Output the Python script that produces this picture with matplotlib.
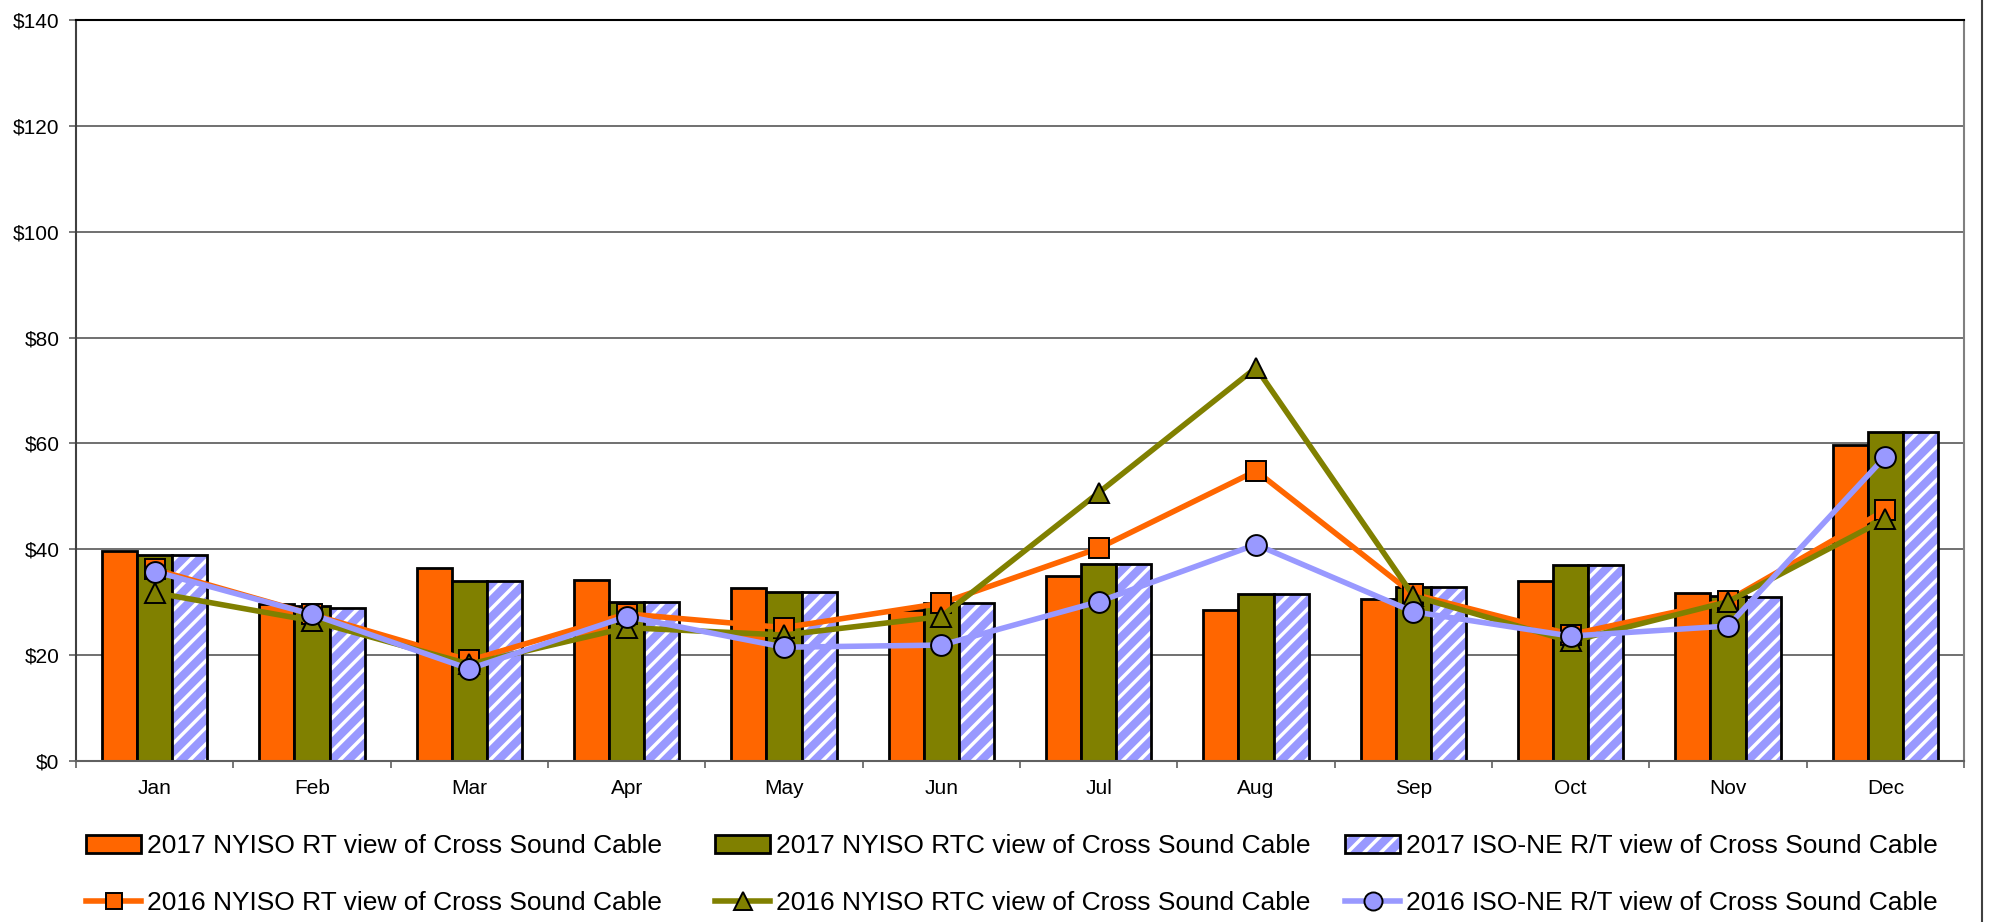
import matplotlib
matplotlib.use("Agg")
import matplotlib.pyplot as plt
import numpy as np
from matplotlib.patches import Patch
from matplotlib.lines import Line2D
from matplotlib.legend_handler import HandlerTuple

plt.rcParams["font.family"] = ["Liberation Sans", "DejaVu Sans"]
plt.rcParams["hatch.color"] = "white"
plt.rcParams["hatch.linewidth"] = 2.5

months = ["Jan", "Feb", "Mar", "Apr", "May", "Jun", "Jul", "Aug", "Sep", "Oct", "Nov", "Dec"]

# 2017 bars
rt_2017 = [39.7, 29.6, 36.4, 34.2, 32.6, 28.5, 35.0, 28.5, 30.6, 34.0, 31.7, 59.7]
rtc_2017 = [38.9, 29.2, 34.0, 30.1, 32.0, 29.9, 37.3, 31.6, 32.8, 37.0, 31.1, 62.1]
isone_2017 = [38.9, 29.0, 34.0, 30.1, 32.0, 29.8, 37.3, 31.6, 32.8, 37.0, 30.9, 62.1]

# 2016 lines
rt_2016 = [36.2, 27.7, 19.0, 27.8, 25.2, 29.8, 40.2, 54.8, 31.5, 23.9, 30.3, 47.4]
rtc_2016 = [31.8, 26.5, 18.3, 25.2, 23.8, 27.3, 50.7, 74.3, 31.2, 22.6, 30.1, 45.7]
isone_2016 = [35.8, 27.7, 17.4, 27.3, 21.5, 21.9, 30.1, 40.9, 28.2, 23.6, 25.5, 57.5]

labels = ["2017 NYISO RT view of Cross Sound Cable",
          "2017 NYISO RTC view of Cross Sound Cable",
          "2017 ISO-NE R/T view of Cross Sound Cable",
          "2016 NYISO RT view of Cross Sound Cable",
          "2016 NYISO RTC view of Cross Sound Cable",
          "2016 ISO-NE R/T view of Cross Sound Cable"]

ORANGE = "#FF6600"
OLIVE = "#808000"
PERI = "#9999FF"
EW = 2.0   # bar edge width
LW = 4.0   # line width
MS = 15    # marker size

W, H = 1990, 922
fig = plt.figure(figsize=(W / 100, H / 100), dpi=100)
ax = fig.add_axes([76 / W, 1 - 761 / H, (1964 - 76) / W, (761 - 20) / H])

x = np.arange(len(months))
bw = 0.2225
ax.bar(x - bw, rt_2017, bw, color=ORANGE, edgecolor="black", linewidth=EW, zorder=2)
ax.bar(x, rtc_2017, bw, color=OLIVE, edgecolor="black", linewidth=EW, zorder=2)
ax.bar(x + bw, isone_2017, bw, color=PERI, hatch="//", linewidth=0, zorder=2)
ax.bar(x + bw, isone_2017, bw, fill=False, edgecolor="black", linewidth=EW, zorder=2.1)

ax.plot(x, rt_2016, color=ORANGE, lw=LW, marker="s", ms=MS - 1, mfc=ORANGE, mec="black", mew=1.4, zorder=3)
ax.plot(x, rtc_2016, color=OLIVE, lw=LW, marker="^", ms=MS, mfc=OLIVE, mec="black", mew=1.4, zorder=4)
ax.plot(x, isone_2016, color=PERI, lw=LW, marker="o", ms=MS, mfc=PERI, mec="black", mew=1.4, zorder=5)

ax.set_xlim(-0.5, 11.5)
ax.set_ylim(0, 140)
ax.set_yticks(np.arange(0, 141, 20))
ax.set_yticklabels([f"${v}" for v in range(0, 141, 20)])
ax.set_xticks(np.arange(-0.5, 12, 1))
ax.set_xticklabels([])
ax.set_xticks(x, minor=True)
ax.set_xticklabels(months, minor=True)
ax.tick_params(axis="x", which="major", length=5, width=1.2, color="#606060", direction="out")
ax.tick_params(axis="x", which="minor", length=0, pad=13, labelsize=15)
ax.tick_params(axis="y", length=5, width=1.2, color="#606060", labelsize=15, pad=7)

ax.grid(axis="y", color="#707070", lw=1.4)
ax.set_axisbelow(True)
ax.spines["top"].set_color("black")
ax.spines["top"].set_linewidth(1.5)
ax.spines["left"].set_color("#404040")
ax.spines["left"].set_linewidth(1.5)
ax.spines["bottom"].set_color("#606060")
ax.spines["bottom"].set_linewidth(1.5)
ax.spines["right"].set_color("#808080")
ax.spines["right"].set_linewidth(1.5)

fig.add_artist(Line2D([1982 / W, 1982 / W], [0, 1], transform=fig.transFigure, color="#404040", lw=1.5))

# legend handles, one legend per column
h_bars = [Patch(facecolor=ORANGE, edgecolor="black", linewidth=EW),
          Patch(facecolor=OLIVE, edgecolor="black", linewidth=EW),
          (Patch(facecolor=PERI, hatch="//", linewidth=0),
           Patch(fill=False, edgecolor="black", linewidth=EW))]
h_lines = [Line2D([], [], color=ORANGE, lw=LW, marker="s", ms=12, mfc=ORANGE, mec="black", mew=1.4),
           Line2D([], [], color=OLIVE, lw=LW, marker="^", ms=13, mfc=OLIVE, mec="black", mew=1.4),
           Line2D([], [], color=PERI, lw=LW, marker="o", ms=13, mfc=PERI, mec="black", mew=1.4)]
col_x = [86, 715, 1345]
for i in range(3):
    fig.legend([h_bars[i], h_lines[i]], [labels[i], labels[i + 3]],
               loc="center left", bbox_to_anchor=(col_x[i] / W, 1 - 874.5 / H),
               frameon=False, fontsize=19, handlelength=2.1, handletextpad=0.2,
               labelspacing=1.25, borderpad=0, borderaxespad=0,
               handler_map={tuple: HandlerTuple(ndivide=1, pad=0)})

fig.savefig("out.png", dpi=100)
